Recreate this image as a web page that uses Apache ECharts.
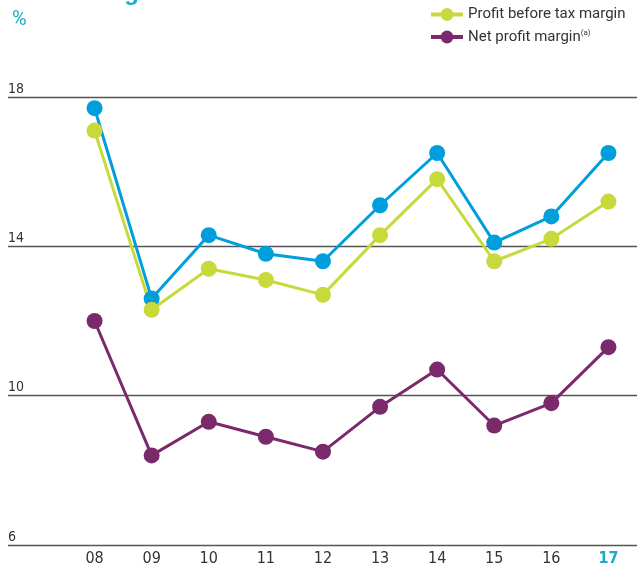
<!DOCTYPE html>
<html>
<head>
<meta charset="utf-8">
<script src="https://cdn.jsdelivr.net/npm/echarts@6/dist/echarts.min.js"></script>
<style>
html, body { margin: 0; padding: 0; background: #fff; }
#main { width: 637px; height: 567px; }
</style>
</head>
<body>
<div id="main"></div>
<script>
var years = ['08', '09', '10', '11', '12', '13', '14', '15', '16', '17'];
var operatingMargin = [17.7, 12.6, 14.3, 13.8, 13.6, 15.1, 16.5, 14.1, 14.8, 16.5];
var profitBeforeTax = [17.1, 12.3, 13.4, 13.1, 12.7, 14.3, 15.8, 13.6, 14.2, 15.2];
var netProfitMargin = [12.0, 8.4, 9.3, 8.9, 8.5, 9.7, 10.7, 9.2, 9.8, 11.3];

var teal = '#1DAAC6';
var narrow = "'Liberation Sans Narrow', 'DejaVu Sans Condensed', 'Roboto', sans-serif";
var myChart = echarts.init(document.getElementById('main'));

function lineSeries(name, data, color) {
    return {
        name: name,
        type: 'line',
        xAxisIndex: 1,
        yAxisIndex: 1,
        data: data,
        symbol: 'circle',
        symbolSize: 16,
        lineStyle: { width: 3, color: color },
        itemStyle: { color: color },
        animation: false
    };
}

var option = {
    animation: false,
    title: [{
        text: 'Profit margins',
        left: 6,
        top: -24,
        textStyle: { color: teal, fontSize: 24, fontWeight: 'bold', fontFamily: 'Liberation Sans' }
    }, {
        text: '%',
        left: 7,
        top: 5,
        textStyle: { color: teal, fontSize: 20, fontWeight: 'normal', fontFamily: 'Roboto, sans-serif' }
    }],
    legend: {
        orient: 'vertical',
        left: 424,
        top: -20,
        itemWidth: 32,
        itemHeight: 16,
        itemGap: 7,
        lineStyle: { width: 4 },
        textStyle: {
            color: '#333',
            fontSize: 15,
            fontFamily: 'Roboto, sans-serif',
            rich: { sup: { fontSize: 8, verticalAlign: 'top', padding: [0, 0, 8, 0], color: '#333' } }
        },
        formatter: function (name) {
            if (name === 'Net profit margin') return name + '{sup|(a)}';
            return name;
        },
        data: ['Operating margin', 'Profit before tax margin', 'Net profit margin']
    },
    grid: [
        { left: 8, right: 0, top: 97, bottom: 22 },
        { left: 66, width: 575, top: 97, bottom: 22 }
    ],
    xAxis: [{
        gridIndex: 0,
        type: 'category',
        data: years,
        show: false
    }, {
        gridIndex: 1,
        type: 'category',
        data: years,
        boundaryGap: true,
        axisLine: { show: false },
        axisTick: { show: false },
        axisLabel: {
            interval: 0,
            margin: 6,
            fontSize: 16,
            color: '#333',
            fontFamily: narrow,
            formatter: function (v) {
                return v === '17' ? '{hl|' + v + '}' : v;
            },
            rich: { hl: { color: teal, fontWeight: 'bold', fontSize: 16, fontFamily: narrow } }
        }
    }],
    yAxis: [{
        gridIndex: 0,
        type: 'value',
        min: 6,
        max: 18,
        interval: 4,
        axisLine: { show: false },
        axisTick: { show: false },
        splitLine: { show: true, lineStyle: { color: '#555', width: 1.3 } },
        axisLabel: {
            inside: true,
            verticalAlign: 'bottom',
            align: 'left',
            margin: 0,
            padding: [0, 0, 1, 0],
            fontSize: 14,
            color: '#333',
            fontFamily: narrow
        }
    }, {
        gridIndex: 1,
        type: 'value',
        min: 6,
        max: 18,
        interval: 4,
        show: false,
        splitLine: { show: false }
    }],
    series: [
        lineSeries('Operating margin', operatingMargin, '#009FDB'),
        lineSeries('Profit before tax margin', profitBeforeTax, '#C8D93C'),
        lineSeries('Net profit margin', netProfitMargin, '#7A2A6B')
    ]
};
myChart.setOption(option);
</script>
</body>
</html>
